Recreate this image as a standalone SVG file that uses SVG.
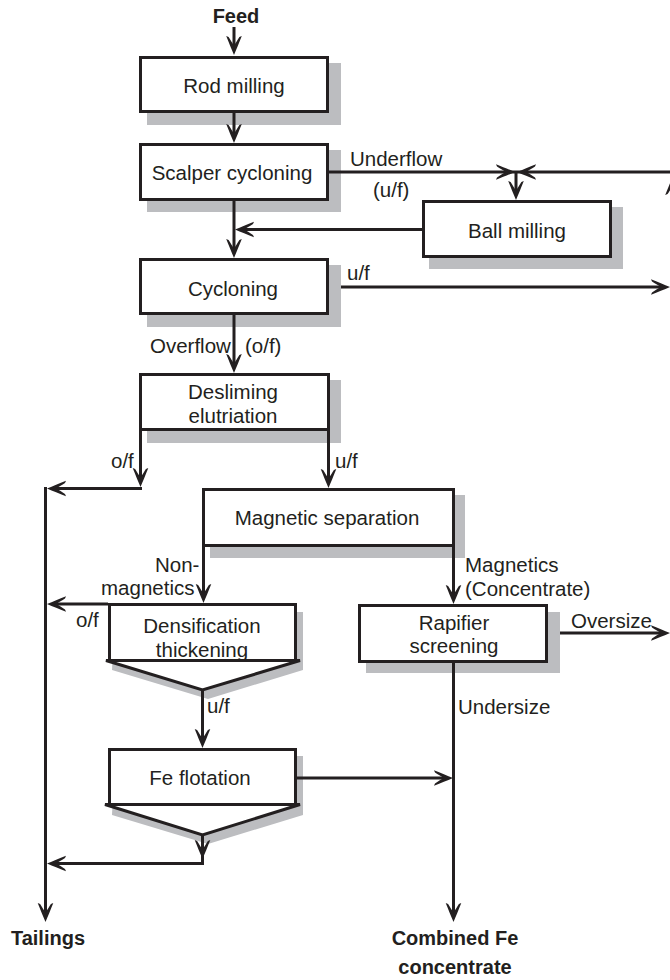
<svg xmlns="http://www.w3.org/2000/svg" xmlns:xlink="http://www.w3.org/1999/xlink" width="670" height="980" viewBox="0 0 670 980">
  <style>
    text { font-family: "Liberation Sans", Arial, Helvetica, sans-serif; font-size: 20.5px; fill: #231f20; }
    .b { font-weight: bold; font-size: 20px; }
    .c { text-anchor: middle; }
    .box { fill: #ffffff; stroke: #231f20; stroke-width: 3; }
    .sh { fill: #bcbdc0; stroke: none; }
    .ln { fill: none; stroke: #231f20; stroke-width: 3; }
  </style>
  <defs>
    <!-- barbed arrowhead, tip at origin pointing +x -->
    <path id="ah" fill="#231f20" d="M0,0 C-6,-2.5 -12,-5 -19,-7.8 L-18,-5.4 C-15,-3.4 -12,-1.8 -9.5,0 C-12,1.8 -15,3.4 -18,5.4 L-19,7.8 C-12,5 -6,2.5 0,0 Z"/>
  </defs>
  <rect width="670" height="980" fill="#ffffff"/>

  <!-- process units -->
  <g id="rod-milling">
    <rect class="sh" x="147" y="63" width="194" height="62"/>
    <rect class="box" x="140.5" y="57.5" width="187" height="54"/>
    <text class="c" x="234" y="93">Rod milling</text>
  </g>
  <g id="scalper-cycloning">
    <rect class="sh" x="147" y="150" width="194" height="62"/>
    <rect class="box" x="140.5" y="144.5" width="187" height="55"/>
    <text class="c" x="232" y="180">Scalper cycloning</text>
  </g>
  <g id="ball-milling">
    <rect class="sh" x="429" y="207" width="194" height="62"/>
    <rect class="box" x="423.5" y="201.5" width="187" height="55"/>
    <text class="c" x="517" y="238">Ball milling</text>
  </g>
  <g id="cycloning">
    <rect class="sh" x="147" y="265" width="194" height="62"/>
    <rect class="box" x="140.5" y="259.5" width="187" height="54"/>
    <text class="c" x="233" y="296">Cycloning</text>
  </g>
  <g id="desliming">
    <rect class="sh" x="147" y="380" width="194" height="63"/>
    <rect class="box" x="140.5" y="374.5" width="188" height="55"/>
    <text class="c" x="233" y="399">Desliming</text>
    <text class="c" x="233" y="423">elutriation</text>
  </g>
  <g id="magnetic-separation">
    <rect class="sh" x="210" y="495" width="255" height="63"/>
    <rect class="box" x="203.5" y="489.5" width="250" height="56"/>
    <text class="c" x="327" y="525">Magnetic separation</text>
  </g>
  <g id="densification">
    <path class="sh" d="M115,612 H303 V670 L208,699 L112,670 Z"/>
    <rect class="box" x="109.5" y="604.5" width="186" height="56"/>
    <path class="box" stroke-linejoin="miter" d="M106,660.5 H300 L202.5,690 Z"/>
    <text class="c" x="202" y="633">Densification</text>
    <text class="c" x="202" y="657">thickening</text>
  </g>
  <g id="rapifier-screening">
    <rect class="sh" x="366" y="612" width="194" height="61"/>
    <rect class="box" x="359.5" y="605.5" width="187" height="56"/>
    <text class="c" x="454" y="630">Rapifier</text>
    <text class="c" x="454" y="653">screening</text>
  </g>
  <g id="fe-flotation">
    <path class="sh" d="M115,756 H303 V815 L208,844 L112,815 Z"/>
    <rect class="box" x="109.5" y="749.5" width="186" height="55"/>
    <path class="box" stroke-linejoin="miter" d="M105,804.5 H300 L202.5,835 Z"/>
    <text class="c" x="200" y="785">Fe flotation</text>
  </g>

  <!-- stream labels and terminals -->
  <g id="terminals">
    <text class="b c" x="236" y="23">Feed</text>
    <text class="b c" x="48" y="945">Tailings</text>
    <text class="b c" x="455" y="945">Combined Fe</text>
    <text class="b c" x="455" y="974">concentrate</text>
  </g>
  <g id="stream-labels">
    <text x="350" y="166">Underflow</text>
    <text x="373" y="197">(u/f)</text>
    <text x="347" y="280">u/f</text>
    <text x="150" y="353">Overflow<tspan x="245">(o/f)</tspan></text>
    <text x="111" y="468">o/f</text>
    <text x="335" y="468">u/f</text>
    <text x="155" y="572">Non-</text>
    <text x="101" y="595">magnetics</text>
    <text x="465" y="572">Magnetics</text>
    <text x="465" y="596">(Concentrate)</text>
    <text x="76" y="627">o/f</text>
    <text x="571" y="628">Oversize</text>
    <text x="207" y="713">u/f</text>
    <text x="458" y="714">Undersize</text>
  </g>

  <!-- connectors -->
  <g id="connectors">
    <path class="ln" d="M234,27 V50"/>
    <use xlink:href="#ah" transform="translate(234,55) rotate(90)"/>
    <path class="ln" d="M234,113 V138"/>
    <use xlink:href="#ah" transform="translate(234,143) rotate(90)"/>
    <path class="ln" d="M234,201 V253"/>
    <use xlink:href="#ah" transform="translate(234,258) rotate(90)"/>
    <path class="ln" d="M422,229.5 H240"/>
    <use xlink:href="#ah" transform="translate(235,229.5) rotate(180)"/>

    <path class="ln" d="M329,172 H675"/>
    <use xlink:href="#ah" transform="translate(515,172)"/>
    <use xlink:href="#ah" transform="translate(517,172) rotate(180)"/>
    <path class="ln" d="M516,172 V195"/>
    <use xlink:href="#ah" transform="translate(516,200) rotate(90)"/>

    <path class="ln" d="M341,287 H665"/>
    <use xlink:href="#ah" transform="translate(670,287)"/>
    <path class="ln" d="M673,287 V182"/>
    <use xlink:href="#ah" transform="translate(673,176) rotate(-90)"/>

    <path class="ln" d="M234,315 V368"/>
    <use xlink:href="#ah" transform="translate(234,373) rotate(90)"/>

    <path class="ln" d="M140.5,431 V482"/>
    <use xlink:href="#ah" transform="translate(140.5,487) rotate(90)"/>
    <path class="ln" d="M142,488.5 H52"/>
    <use xlink:href="#ah" transform="translate(47,488.5) rotate(180)"/>
    <path class="ln" d="M328.5,431 V483"/>
    <use xlink:href="#ah" transform="translate(328.5,488) rotate(90)"/>

    <path class="ln" d="M45.5,487 V917"/>
    <use xlink:href="#ah" transform="translate(45.5,922) rotate(90)"/>

    <path class="ln" d="M203.5,547 V598"/>
    <use xlink:href="#ah" transform="translate(203.5,603) rotate(90)"/>
    <path class="ln" d="M108,604 H52"/>
    <use xlink:href="#ah" transform="translate(47,604) rotate(180)"/>

    <path class="ln" d="M202.5,690 V743"/>
    <use xlink:href="#ah" transform="translate(202.5,748) rotate(90)"/>

    <path class="ln" d="M202.5,835 V863.5 H52"/>
    <use xlink:href="#ah" transform="translate(202.5,859) rotate(90)"/>
    <use xlink:href="#ah" transform="translate(47,863.5) rotate(180)"/>

    <path class="ln" d="M297,778 H448"/>
    <use xlink:href="#ah" transform="translate(453,778)"/>

    <path class="ln" d="M453.5,547 V599"/>
    <use xlink:href="#ah" transform="translate(453.5,604) rotate(90)"/>
    <path class="ln" d="M453.5,663 V917"/>
    <use xlink:href="#ah" transform="translate(453.5,922) rotate(90)"/>

    <path class="ln" d="M560,633 H665"/>
    <use xlink:href="#ah" transform="translate(670,633)"/>
  </g>
</svg>
